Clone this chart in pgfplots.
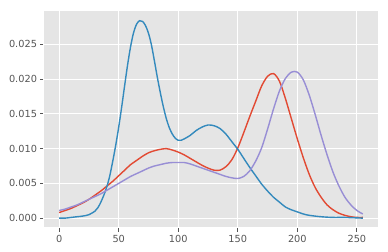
\documentclass[border=0pt]{standalone}
\usepackage{pgfplots}
\pgfplotsset{compat=1.18}
\usepackage{fontspec}
\setmainfont{DejaVu Sans}
\definecolor{bgc}{HTML}{E5E5E5}
\definecolor{c1}{HTML}{E24A33}
\definecolor{c2}{HTML}{348ABD}
\definecolor{c3}{HTML}{988ED5}
\definecolor{tickc}{HTML}{555555}
\begin{document}
\begin{tikzpicture}
\begin{axis}[
  scale only axis,
  width=334bp, height=217bp,
  xmin=-12.75, xmax=267.75,
  ymin=-0.00142, ymax=0.0298,
  xtick={0,50,100,150,200,250},
  ytick={0,0.005,0.01,0.015,0.02,0.025},
  scaled y ticks=false,
  yticklabel style={/pgf/number format/.cd, fixed, fixed zerofill, precision=3},
  /pgf/number format/assume math mode=true,
  ticklabel style={font=\fontsize{9.8}{11}\selectfont, text=tickc},
  axis background/.style={fill=bgc},
  axis line style={draw=white, line width=1bp},
  grid=major,
  major grid style={white, line width=0.8bp},
  tick align=outside,
  major tick length=3.5bp,
  tick style={tickc, line width=0.8bp},
  xtick pos=bottom, ytick pos=left,
  every axis plot/.append style={line width=1.4bp, smooth, tension=0.5, no markers},
]
\addplot[c1] coordinates {
(0,0.0008) (5,0.0011) (10,0.0014) (15,0.0018) (20,0.0022) (25,0.0027)
(30,0.0033) (35,0.0039) (40,0.0046) (45,0.0053) (50,0.0061) (55,0.0069)
(60,0.0077) (65,0.0083) (70,0.0089) (75,0.0094) (80,0.0097) (85,0.0099)
(90,0.0100) (95,0.0098) (100,0.0095) (105,0.0091) (110,0.0086) (115,0.0081)
(120,0.0076) (125,0.0072) (130,0.0069) (135,0.0069) (140,0.0074) (145,0.0084)
(150,0.0101) (155,0.0123) (160,0.0146) (165,0.0168) (170,0.0190) (175,0.0204)
(180,0.0208) (185,0.0197) (190,0.0172) (195,0.0143) (200,0.0114) (205,0.0087)
(210,0.0063) (215,0.0044) (220,0.0030) (225,0.0019) (230,0.0012) (235,0.0007)
(240,0.0004) (245,0.0002) (250,0.0001) (255,0.0001)};
\addplot[c2] coordinates {
(0,0.0000) (5,0.0000) (10,0.0001) (15,0.0002) (20,0.0003) (25,0.0005)
(30,0.0010) (32.5,0.0015) (35,0.0023) (37.5,0.0033) (40,0.0045) (42.5,0.0061)
(45,0.0082) (47.5,0.0105) (50,0.0131) (52.5,0.0160) (55,0.0191) (57.5,0.0221)
(60,0.0247) (62.5,0.0267) (65,0.0279) (67.5,0.0284) (70,0.0283) (72.5,0.0277)
(75,0.0266) (77.5,0.0249) (80,0.0226) (82.5,0.0202) (85,0.0180) (87.5,0.0160)
(90,0.0143) (92.5,0.0130) (95,0.0121) (97.5,0.0115) (100,0.0112) (102.5,0.0112)
(105,0.0114) (110,0.0119) (115,0.0126)
(120,0.0131) (125,0.0134) (130,0.0133) (135,0.0129) (140,0.0121) (145,0.0110)
(150,0.0099) (155,0.0086) (160,0.0073) (165,0.0061) (170,0.0049) (175,0.0039)
(180,0.0030) (185,0.0023) (190,0.0016) (195,0.0012) (200,0.0009) (205,0.0006)
(210,0.0004) (220,0.0002) (230,0.0001) (240,0.0001) (255,0.0000)};
\addplot[c3] coordinates {
(0,0.0011) (5,0.0013) (10,0.0016) (15,0.0019) (20,0.0023) (25,0.0027)
(30,0.0031) (35,0.0035) (40,0.0040) (45,0.0045) (50,0.0050) (55,0.0055)
(60,0.0060) (65,0.0064) (70,0.0068) (75,0.0072) (80,0.0075) (85,0.0077)
(90,0.0079) (95,0.0080) (100,0.0080) (105,0.0080) (110,0.0078) (115,0.0075)
(120,0.0072) (125,0.0069) (130,0.0066) (135,0.0063) (140,0.0060) (145,0.0058)
(150,0.0057) (155,0.0060) (160,0.0068) (165,0.0082) (170,0.0101) (175,0.0128)
(180,0.0157) (185,0.0183) (190,0.0201) (195,0.0210) (200,0.0210) (205,0.0199)
(210,0.0177) (215,0.0149) (220,0.0119) (225,0.0091) (230,0.0066) (235,0.0046)
(240,0.0030) (245,0.0019) (250,0.0011) (255,0.0006)};
\end{axis}
\pgfresetboundingbox
\path (current axis.south west) ++(-44bp,-24bp) coordinate (bl);
\path (current axis.north east) ++(10bp,11bp) coordinate (tr);
\path (bl) rectangle (tr);
\end{tikzpicture}
\end{document}
